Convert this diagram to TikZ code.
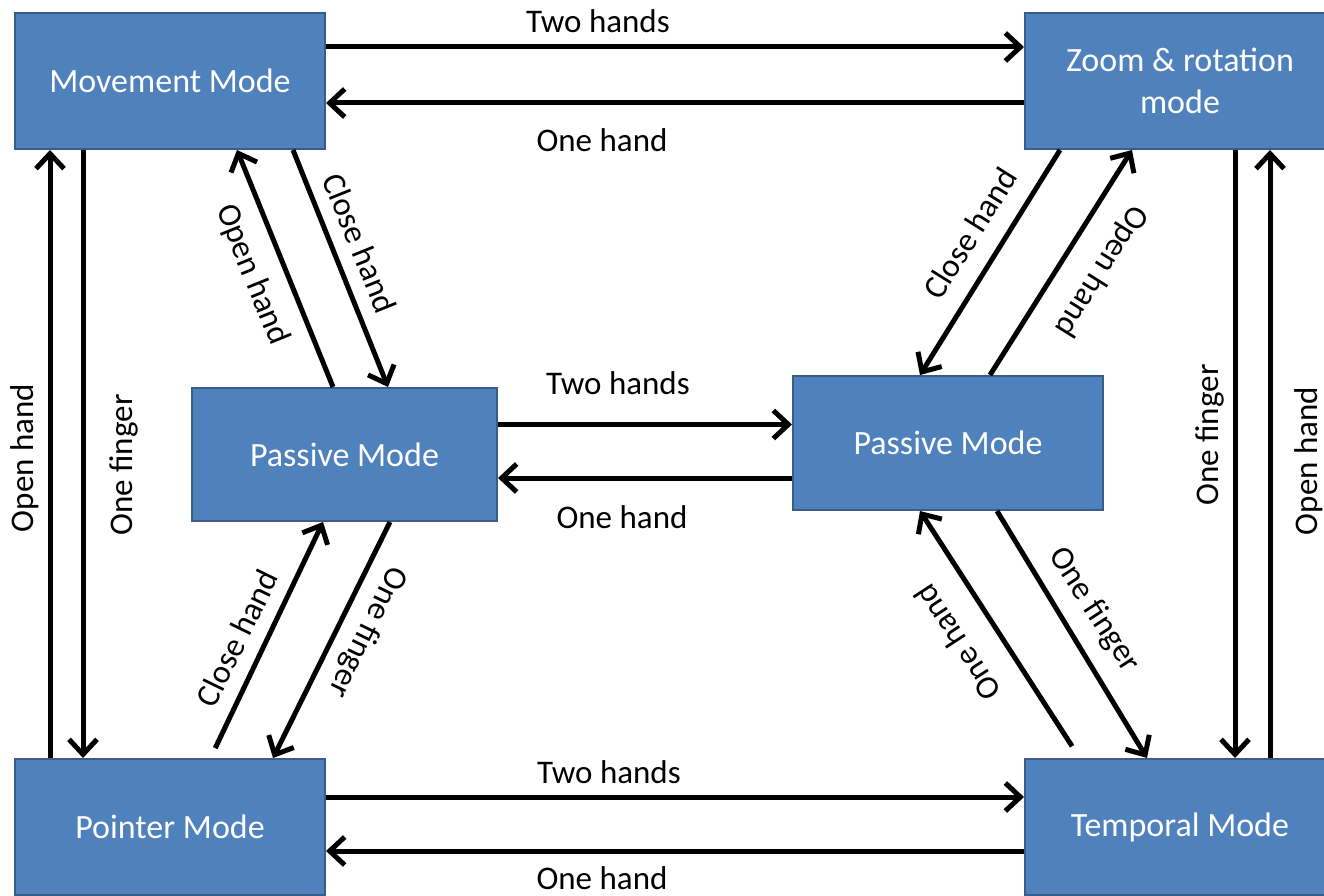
\documentclass[tikz,border=0pt]{standalone}
\usepackage{fontspec}
\setmainfont{Carlito}
\usepackage{xcolor}
\usepackage{tikz}
\usetikzlibrary{arrows.meta, calc}
\definecolor{modeblue}{RGB}{79,129,189}
\definecolor{modeedge}{RGB}{56,93,138}

\begin{document}
\begin{tikzpicture}[x=1pt, y=-1pt,
        mode/.style={rectangle, draw=modeedge, line width=2pt, fill=modeblue, minimum width=310pt, minimum height=136pt, inner sep=0pt, align=center, text=white, font=\fontsize{34}{42}\selectfont},
        lbl/.style={inner sep=0pt, font=\fontsize{33}{40}\selectfont},
        link/.style={-{Straight Barb[length=15pt, width=28pt]}, line width=5pt}
    ]
        \useasboundingbox (0,0) rectangle (1324,896);
        \clip (0,0) rectangle (1324,896);

        % Mode boxes
        \node[mode] (move)  at (170,81)  {Movement Mode};
        \node[mode] (zoom)  at (1180,81) {Zoom \& rotation\\mode};
        \node[mode, minimum width=305pt, minimum height=133pt] (pasl) at (344.5,454.5) {Passive Mode};
        \node[mode, minimum height=134pt] (pasr) at (948,443) {Passive Mode};
        \node[mode] (point) at (170,827) {Pointer Mode};
        \node[mode] (temp)  at (1180,827) {Temporal Mode};

        % Horizontal arrows
        \draw[link] ([yshift=34pt]move.east) -- ([yshift=34pt]zoom.west);
        \draw[link] ([yshift=-22pt]zoom.west) -- ([yshift=-22pt]move.east);
        \draw[link] ([yshift=30pt]pasl.east) coordinate (m1) -- (m1 -| pasr.west);
        \draw[link] ([yshift=-35pt]pasr.west) coordinate (m2) -- (m2 -| pasl.east);
        \draw[link] ([yshift=30pt]point.east) -- ([yshift=30pt]temp.west);
        \draw[link] ([yshift=-24pt]temp.west) -- ([yshift=-24pt]point.east);

        % Vertical arrows
        \draw[link] ([xshift=-120pt]point.north) -- ([xshift=-120pt]move.south);
        \draw[link] ([xshift=-87pt]move.south) -- ([xshift=-87pt]point.north);
        \draw[link] ([xshift=55pt]zoom.south) -- ([xshift=55pt]temp.north);
        \draw[link] ([xshift=90pt]temp.north) -- ([xshift=90pt]zoom.south);

        % Diagonal arrows
        \draw[link] ([xshift=-11.5pt]pasl.north) -- ([xshift=67pt]move.south);
        \draw[link] ([xshift=123pt]move.south) -- ([xshift=43.5pt]pasl.north);
        \draw[link] ([xshift=-120pt]zoom.south) -- ([xshift=-28pt]pasr.north);
        \draw[link] ([xshift=42pt]pasr.north) -- ([xshift=-48pt]zoom.south);
        \draw[link, shorten <=11pt] ([xshift=40.5pt]point.north) -- ([xshift=-21.5pt]pasl.south);
        \draw[link] ([xshift=45.5pt]pasl.south) -- ([xshift=103pt]point.north);
        \draw[link] ([xshift=49pt]pasr.south) -- ([xshift=-33pt]temp.north);
        \draw[link, shorten <=14pt] ([xshift=-100.3pt]temp.north) -- ([xshift=-28pt]pasr.south);

        % Horizontal labels
        \node[lbl, anchor=base] (twotop) at (598,33)  {Two hands};
        \node[lbl, anchor=base] (onetop) at (602,152) {One hand};
        \node[lbl, anchor=base] (twomid) at (618,394) {Two hands};
        \node[lbl, anchor=base] (onemid) at (622,528) {One hand};
        \node[lbl, anchor=base] (twobot) at (609,783) {Two hands};
        \node[lbl, anchor=base] (onebot) at (602,889) {One hand};

        % Vertical labels
        \node[lbl, anchor=base, rotate=90] (openl)   at (33,458)   {Open hand};
        \node[lbl, anchor=base, rotate=90] (fingerl) at (132,465)  {One finger};
        \node[lbl, anchor=base, rotate=90] (fingerr) at (1218,435) {One finger};
        \node[lbl, anchor=base, rotate=90] (openr)   at (1317,461) {Open hand};

        % Diagonal labels
        \node[lbl, rotate=-68]  (opentl)   at (252,275)  {Open hand};
        \node[lbl, rotate=-68]  (closetl)  at (360,243)  {Close hand};
        \node[lbl, rotate=58]   (closetr)  at (970,233)  {Close hand};
        \node[lbl, rotate=-122] (opentr)   at (1101,271) {Open hand};
        \node[lbl, rotate=64]   (closebl)  at (237,638)  {Close hand};
        \node[lbl, rotate=-116] (fingerbl) at (367,632)  {One finger};
        \node[lbl, rotate=123]  (onebr)    at (957,643)  {One hand};
        \node[lbl, rotate=-57]  (fingerbr) at (1094,610) {One finger};
    \end{tikzpicture}
\end{document}
